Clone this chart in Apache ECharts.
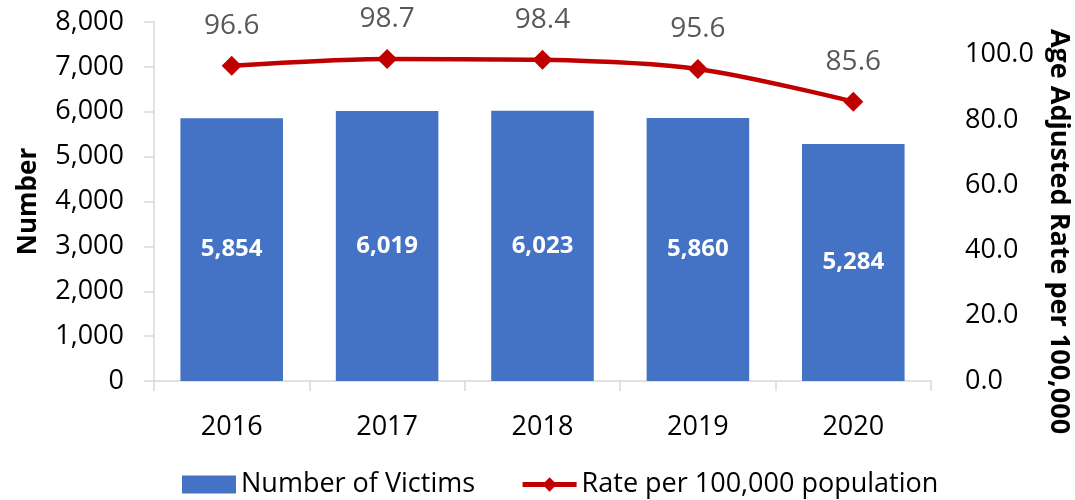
<!DOCTYPE html>
<html>
<head>
<meta charset="utf-8">
<script src="https://cdn.jsdelivr.net/npm/echarts@6/dist/echarts.min.js"></script>
<style>
  html, body { margin: 0; padding: 0; background: #fff; }
  #chart { width: 1075px; height: 500px; }
</style>
</head>
<body>
<div id="chart"></div>
<script>
// data
const years = ['2016', '2017', '2018', '2019', '2020'];
const victims = [5854, 6019, 6023, 5860, 5284];
const rates = [96.6, 98.7, 98.4, 95.6, 85.6];

const FONT = '"Open Sans", "Noto Sans", sans-serif';

const chart = echarts.init(document.getElementById('chart'));

const option = {
    backgroundColor: '#ffffff',
    textStyle: { fontFamily: FONT },
    grid: { left: 154, right: 144, top: 22, bottom: 119, outerBoundsMode: 'none', containLabel: false },
    legend: {
        bottom: -3,
        left: 177,
        itemGap: 45,
        itemWidth: 54,
        itemHeight: 18,
        textStyle: { fontSize: 27, color: '#000', fontFamily: FONT },
        data: [
            { name: 'Number of Victims', icon: 'rect' },
            { name: 'Rate per 100,000 population', lineStyle: { width: 5 } }
        ]
    },
    xAxis: {
        type: 'category',
        data: years,
        axisLine: { lineStyle: { color: '#d9d9d9', width: 1.5 } },
        axisTick: { show: true, length: 10, lineStyle: { color: '#d9d9d9', width: 1.5 } },
        axisLabel: { fontSize: 27, color: '#000', margin: 33, fontFamily: FONT }
    },
    yAxis: [
        {
            type: 'value',
            min: 0, max: 8000, interval: 1000,
            name: 'Number',
            nameLocation: 'middle',
            nameGap: 112,
            nameTextStyle: { fontSize: 26, fontWeight: 'bold', color: '#000', fontFamily: FONT },
            axisLine: { show: true, lineStyle: { color: '#d9d9d9', width: 1.5 } },
            axisTick: { show: true, length: 10, lineStyle: { color: '#d9d9d9', width: 1.5 } },
            splitLine: { show: false },
            axisLabel: {
                fontSize: 27, color: '#000', margin: 30, fontFamily: FONT,
                formatter: v => v.toLocaleString('en-US')
            }
        },
        {
            type: 'value',
            min: 0, max: 110, interval: 20,
            position: 'right',
            name: 'Age Adjusted Rate per 100,000',
            nameLocation: 'middle',
            nameRotate: -90,
            nameGap: 114,
            nameTextStyle: {
                fontSize: 27, fontWeight: 'bold', color: '#000', fontFamily: FONT,
                padding: [0, 0, 0, 60]
            },
            axisLine: { show: false },
            axisTick: { show: false },
            splitLine: { show: false },
            axisLabel: {
                fontSize: 27, color: '#000', margin: 34, fontFamily: FONT,
                showMaxLabel: false,
                formatter: v => (v > 100 ? '' : v.toFixed(1))
            }
        }
    ],
    series: [
        {
            name: 'Number of Victims',
            type: 'bar',
            data: victims,
            barWidth: '66%',
            itemStyle: { color: '#4472c4' },
            label: {
                show: true,
                position: 'inside',
                color: '#fff',
                fontWeight: 'bold',
                fontSize: 24,
                fontFamily: FONT,
                formatter: p => p.value.toLocaleString('en-US')
            }
        },
        {
            name: 'Rate per 100,000 population',
            type: 'line',
            yAxisIndex: 1,
            data: rates,
            smooth: 0.3,
            symbol: 'diamond',
            symbolSize: 20,
            lineStyle: { color: '#c00000', width: 4.5 },
            itemStyle: { color: '#c00000' },
            label: {
                show: true,
                position: 'top',
                distance: 16,
                color: '#595959',
                fontSize: 28,
                fontFamily: FONT,
                formatter: p => p.value.toFixed(1)
            }
        }
    ]
};

chart.setOption(option);
</script>
</body>
</html>
